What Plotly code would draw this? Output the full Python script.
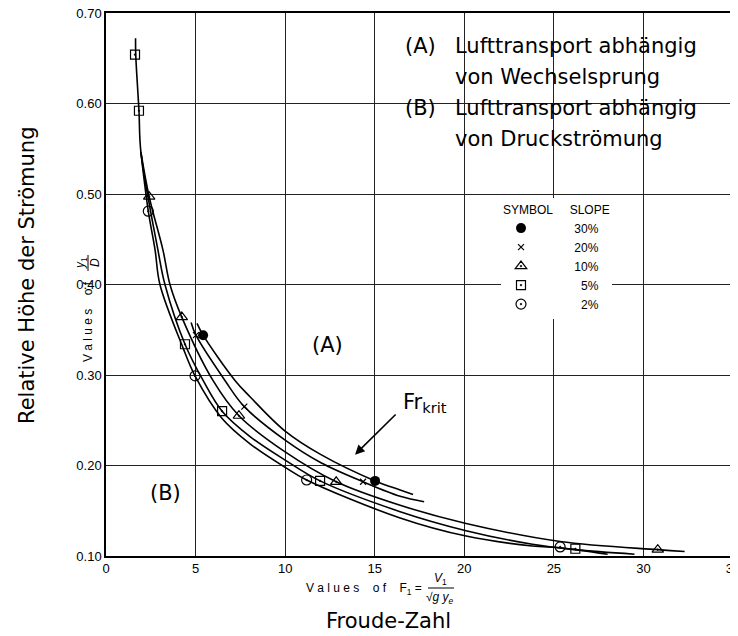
import plotly.graph_objects as go

# ---------------- data ----------------
x_ticks = [0, 5, 10, 15, 20, 25, 30, 35]
x_tick_labels = ["0", "5", "10", "15", "20", "25", "30", "35"]
y_ticks = [0.10, 0.20, 0.30, 0.40, 0.50, 0.60, 0.70]
y_tick_labels = ["0.10", "0.20", "0.30", "0.40", "0.50", "0.60", "0.70"]

slopes = ["30%", "20%", "10%", "5%", "2%"]

# fitted curves
c30_x = [5.08, 5.42, 7.2, 8.04, 10, 12, 15.02, 16.42, 17.14]
c30_y = [0.357, 0.344, 0.294, 0.276, 0.238, 0.212, 0.183, 0.173, 0.168]
c20_x = [4.75, 5.02, 6.64, 7.72, 10, 12, 14.35, 16.42, 17.76]
c20_y = [0.358, 0.344, 0.294, 0.265, 0.228, 0.203, 0.182, 0.166, 0.160]
c10_x = [1.95, 2.41, 3.18, 3.57, 4.23, 5.97, 7.42, 10, 12.85, 16.42, 20.1, 25.35, 30.8, 32.3]
c10_y = [0.546, 0.497, 0.438, 0.40, 0.364, 0.294, 0.255, 0.215, 0.182, 0.156, 0.136, 0.116, 0.107, 0.105]
c5_x = [1.65, 1.66, 1.84, 1.95, 2.9, 3.29, 4.41, 5.42, 6.48, 8.04, 10, 11.95, 16.42, 20.1, 23.8, 26.2, 29.5]
c5_y = [0.672, 0.654, 0.592, 0.546, 0.438, 0.40, 0.334, 0.294, 0.26, 0.232, 0.206, 0.183, 0.149, 0.128, 0.113, 0.107, 0.102]
c2_x = [1.95, 2.36, 2.74, 3.01, 4.3, 4.97, 6.48, 8.04, 10, 11.2, 16.42, 20.1, 23.8, 25.35, 28.0]
c2_y = [0.546, 0.481, 0.438, 0.40, 0.33, 0.299, 0.252, 0.224, 0.198, 0.184, 0.142, 0.122, 0.111, 0.109, 0.102]

# measured points
m30_x = [5.42, 15.02]
m30_y = [0.344, 0.183]
m20_x = [5.02, 7.72, 14.35]
m20_y = [0.344, 0.265, 0.182]
m10_x = [2.41, 4.23, 7.42, 12.85, 30.8]
m10_y = [0.497, 0.364, 0.255, 0.182, 0.107]
m5_x = [1.62, 1.84, 4.41, 6.48, 11.95, 26.2]
m5_y = [0.654, 0.592, 0.334, 0.26, 0.183, 0.108]
m2_x = [2.36, 4.97, 11.2, 25.35]
m2_y = [0.481, 0.299, 0.184, 0.110]

# ---------------- figure ----------------
OFF = 8                      # page body margin offset
W, H = 738 - OFF, 636 - OFF
PL, PR, PT, PB = 106, 733, 13, 556   # plot area in page pixels
ML, MR, MT, MB = PL - OFF, W - (PR - OFF), PT - OFF, H - (PB - OFF)
PW, PH = PR - PL, PB - PT


def px(xp, yp):
    """page pixel position -> paper coordinates"""
    return (xp - PL) / PW, (PB - yp) / PH


fig = go.Figure()

curves = [(c30_x, c30_y), (c20_x, c20_y), (c10_x, c10_y), (c5_x, c5_y), (c2_x, c2_y)]
for cx, cy in curves:
    fig.add_trace(go.Scatter(x=cx, y=cy, mode="lines",
                             line=dict(color="black", width=1.6, shape="spline", smoothing=1.0),
                             showlegend=False, hoverinfo="skip"))

fs = "\u2007"  # figure space for right alignment
marker_defs = [
    (m30_x, m30_y, dict(symbol="circle", size=10, color="black"), slopes[0]),
    (m20_x, m20_y, dict(symbol="x-thin", size=6, color="black", line=dict(width=1.2, color="black")), slopes[1]),
    (m10_x, m10_y, dict(symbol="triangle-up-open-dot", size=10, color="black", line=dict(width=1.2)), slopes[2]),
    (m5_x, m5_y, dict(symbol="square-open-dot", size=9, color="black", line=dict(width=1.2)), slopes[3]),
    (m2_x, m2_y, dict(symbol="circle-open-dot", size=10, color="black", line=dict(width=1.2)), slopes[4]),
]
for mx, my, mk, name in marker_defs:
    pad = "\u00a0" * 10 + (fs if len(name) < 3 else "")
    fig.add_trace(go.Scatter(x=mx, y=my, mode="markers", marker=mk,
                             name=pad + name, hoverinfo="skip",
                             cliponaxis=False))

# white box hiding the grid behind the explanatory text
fig.add_shape(type="rect", xref="paper", yref="paper",
              x0=px(399, 0)[0], x1=px(716, 0)[0], y0=px(0, 156)[1], y1=px(0, 27)[1],
              fillcolor="white", line=dict(width=0), layer="between")

annotations = []
txt_font = dict(family="DejaVu Sans", size=21, color="black")
rows = [("(A)", "Lufttransport abhängig", 46), ("", "von Wechselsprung", 77),
        ("(B)", "Lufttransport abhängig", 108), ("", "von Druckströmung", 139)]
for lab, txt, yp in rows:
    if lab:
        xx, yy = px(403, yp)
        annotations.append(dict(x=xx, y=yy, xref="paper", yref="paper", text=lab,
                                showarrow=False, xanchor="left", yanchor="middle", font=txt_font))
    xx, yy = px(453, yp)
    annotations.append(dict(x=xx, y=yy, xref="paper", yref="paper", text=txt,
                            showarrow=False, xanchor="left", yanchor="middle", font=txt_font))

# region labels
annotations.append(dict(x=12.34, y=0.333, text="(A)", showarrow=False, font=txt_font))
annotations.append(dict(x=3.3, y=0.170, text="(B)", showarrow=False, font=txt_font))
xx, yy = px(401, 403)
annotations.append(dict(x=xx, y=yy, xref="paper", yref="paper",
                        text="Fr<sub>krit</sub>", showarrow=False, xanchor="left", yanchor="middle",
                        font=dict(family="DejaVu Sans", size=21, color="black")))
annotations.append(dict(x=13.9, y=0.212, ax=16.25, ay=0.258, axref="x", ayref="y",
                        text="", showarrow=True, arrowhead=2, arrowsize=1.2, arrowwidth=1.6,
                        arrowcolor="black"))

# x-axis titles
small = dict(family="Liberation Sans", size=12, color="black")
sp = "\u00a0"
vals = sp.join("Values") + sp * 4 + sp.join("of") + sp * 4 + "F<sub>1</sub>" + sp + "="
xx, yy = px(424, 589)
annotations.append(dict(x=xx, y=yy, xref="paper", yref="paper", text=vals,
                        showarrow=False, xanchor="right", yanchor="middle", font=small))
xx, yy = px(440, 579)
annotations.append(dict(x=xx, y=yy, xref="paper", yref="paper", text="<i>V</i><sub>1</sub>",
                        showarrow=False, xanchor="center", yanchor="middle", font=small))
xx, yy = px(440, 598)
annotations.append(dict(x=xx, y=yy, xref="paper", yref="paper", text="√<i>g y<sub>e</sub></i>",
                        showarrow=False, xanchor="center", yanchor="middle", font=small))
fig.add_shape(type="line", xref="paper", yref="paper",
              x0=px(428, 0)[0], x1=px(454, 0)[0], y0=px(0, 588)[1], y1=px(0, 588)[1],
              line=dict(color="black", width=1))
big = dict(family="DejaVu Sans", size=21, color="black")
xx, yy = px(388, 621)
annotations.append(dict(x=xx, y=yy, xref="paper", yref="paper", text="Froude-Zahl",
                        showarrow=False, xanchor="center", yanchor="middle", font=big))

# y-axis titles
vals_y = sp.join("Values") + sp * 4 + sp.join("of")
xx, yy = px(88, 322)
annotations.append(dict(x=xx, y=yy, xref="paper", yref="paper", text=vals_y, textangle=-90,
                        showarrow=False, xanchor="center", yanchor="middle", font=small))
xx, yy = px(81, 263)
annotations.append(dict(x=xx, y=yy, xref="paper", yref="paper", text="<i>y</i><sub>1</sub>", textangle=-90,
                        showarrow=False, xanchor="center", yanchor="middle", font=small))
xx, yy = px(95, 263)
annotations.append(dict(x=xx, y=yy, xref="paper", yref="paper", text="<i>D</i>", textangle=-90,
                        showarrow=False, xanchor="center", yanchor="middle", font=small))
fig.add_shape(type="line", xref="paper", yref="paper",
              x0=px(88, 0)[0], x1=px(88, 0)[0], y0=px(0, 271)[1], y1=px(0, 255)[1],
              line=dict(color="black", width=1))
xx, yy = px(27, 276)
annotations.append(dict(x=xx, y=yy, xref="paper", yref="paper", text="Relative Höhe der Strömung",
                        textangle=-90, showarrow=False, xanchor="center", yanchor="middle", font=big))

lx, ly = px(501, 198)
fig.update_layout(
    width=W, height=H,
    margin=dict(l=ML, r=MR, t=MT, b=MB, autoexpand=False),
    paper_bgcolor="white", plot_bgcolor="white",
    annotations=annotations,
    showlegend=True,
    legend=dict(x=lx, y=ly, xanchor="left", yanchor="top", bgcolor="white",
                borderwidth=0, font=dict(family="Liberation Sans", size=12, color="black"),
                title=dict(text="SYMBOL" + sp * 5 + "SLOPE",
                           font=dict(family="Liberation Sans", size=12, color="black")),
                itemwidth=30, tracegroupgap=0),
    xaxis=dict(range=[0, 35], tickvals=x_ticks, ticktext=x_tick_labels, automargin=False,
               ticklabeloverflow="allow",
               showgrid=True, gridcolor="#222", gridwidth=1,
               showline=True, linecolor="black", linewidth=1.5, mirror=True,
               zeroline=False, ticks="", tickfont=dict(family="Liberation Sans", size=13, color="black")),
    yaxis=dict(range=[0.10, 0.70], tickvals=y_ticks, ticktext=y_tick_labels, automargin=False,
               ticklabeloverflow="allow",
               showgrid=True, gridcolor="#222", gridwidth=1,
               showline=True, linecolor="black", linewidth=1.5, mirror=True,
               zeroline=False, ticks="", tickfont=dict(family="Liberation Sans", size=13, color="black")),
)

fig.write_html("out.html")
